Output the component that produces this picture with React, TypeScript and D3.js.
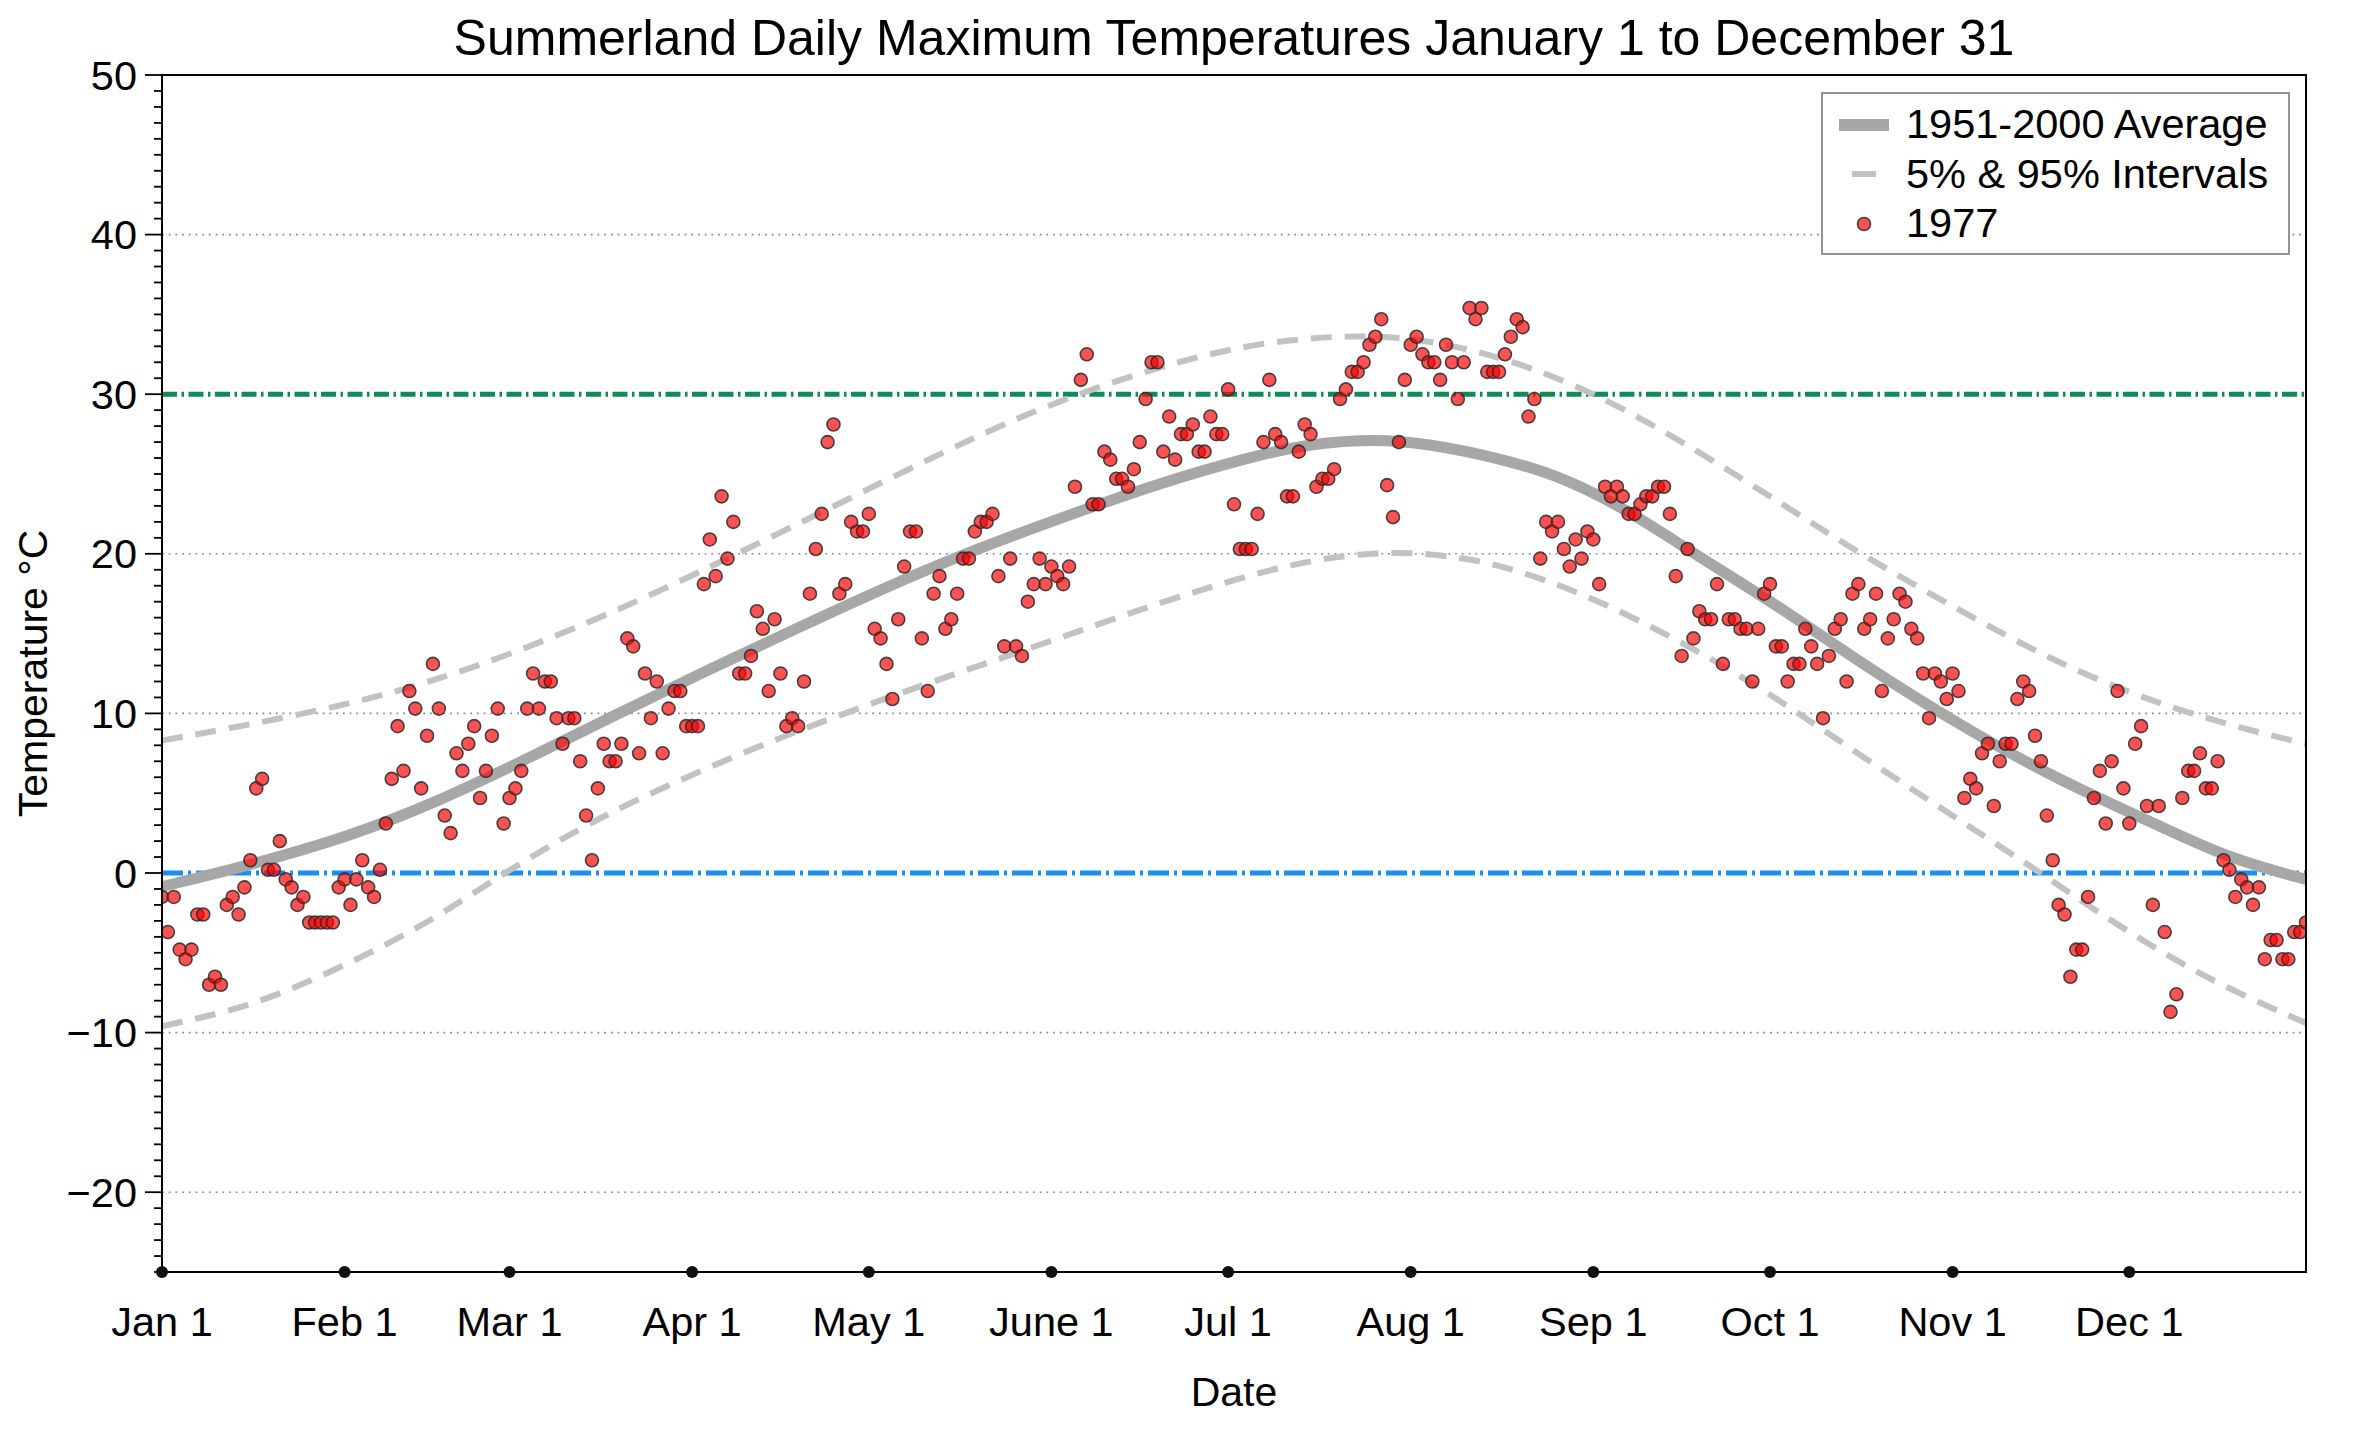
import React from "react";
import * as d3 from "d3";

// ---------- DATA ----------
const monthTickDays = [0, 31, 59, 90, 120, 151, 181, 212, 243, 273, 304, 334];
const monthTickLabels = ["Jan 1", "Feb 1", "Mar 1", "Apr 1", "May 1", "June 1", "Jul 1", "Aug 1", "Sep 1", "Oct 1", "Nov 1", "Dec 1"];
const yMajorTicks = [-20, -10, 0, 10, 20, 30, 40, 50];
const gridValues = [-20, -10, 10, 20, 40];

// 1977 daily maxima (°C), day index 0 = Jan 1
const temps1977 = [
  -1.5, -3.7, -1.5, -4.8, -5.4, -4.8, -2.6, -2.6, -7.0, -6.5,
  -7.0, -2.0, -1.5, -2.6, -0.9, 0.8, 5.3, 5.9, 0.2, 0.2,
  2.0, -0.4, -0.9, -2.0, -1.5, -3.1, -3.1, -3.1, -3.1, -3.1,
  -0.9, -0.4, -2.0, -0.4, 0.8, -0.9, -1.5, 0.2, 3.1, 5.9,
  9.2, 6.4, 11.4, 10.3, 5.3, 8.6, 13.1, 10.3, 3.6, 2.5,
  7.5, 6.4, 8.1, 9.2, 4.7, 6.4, 8.6, 10.3, 3.1, 4.7,
  5.3, 6.4, 10.3, 12.5, 10.3, 12.0, 12.0, 9.7, 8.1, 9.7,
  9.7, 7.0, 3.6, 0.8, 5.3, 8.1, 7.0, 7.0, 8.1, 14.7,
  14.2, 7.5, 12.5, 9.7, 12.0, 7.5, 10.3, 11.4, 11.4, 9.2,
  9.2, 9.2, 18.1, 20.9, 18.6, 23.6, 19.7, 22.0, 12.5, 12.5,
  13.6, 16.4, 15.3, 11.4, 15.9, 12.5, 9.2, 9.7, 9.2, 12.0,
  17.5, 20.3, 22.5, 27.0, 28.1, 17.5, 18.1, 22.0, 21.4, 21.4,
  22.5, 15.3, 14.7, 13.1, 10.9, 15.9, 19.2, 21.4, 21.4, 14.7,
  11.4, 17.5, 18.6, 15.3, 15.9, 17.5, 19.7, 19.7, 21.4, 22.0,
  22.0, 22.5, 18.6, 14.2, 19.7, 14.2, 13.6, 17.0, 18.1, 19.7,
  18.1, 19.2, 18.6, 18.1, 19.2, 24.2, 30.9, 32.5, 23.1, 23.1,
  26.4, 25.9, 24.7, 24.7, 24.2, 25.3, 27.0, 29.7, 32.0, 32.0,
  26.4, 28.6, 25.9, 27.5, 27.5, 28.1, 26.4, 26.4, 28.6, 27.5,
  27.5, 30.3, 23.1, 20.3, 20.3, 20.3, 22.5, 27.0, 30.9, 27.5,
  27.0, 23.6, 23.6, 26.4, 28.1, 27.5, 24.2, 24.7, 24.7, 25.3,
  29.7, 30.3, 31.4, 31.4, 32.0, 33.1, 33.6, 34.7, 24.3, 22.3,
  27.0, 30.9, 33.1, 33.6, 32.5, 32.0, 32.0, 30.9, 33.1, 32.0,
  29.7, 32.0, 35.4, 34.7, 35.4, 31.4, 31.4, 31.4, 32.5, 33.6,
  34.7, 34.2, 28.6, 29.7, 19.7, 22.0, 21.4, 22.0, 20.3, 19.2,
  20.9, 19.7, 21.4, 20.9, 18.1, 24.2, 23.6, 24.2, 23.6, 22.5,
  22.5, 23.1, 23.6, 23.6, 24.2, 24.2, 22.5, 18.6, 13.6, 20.3,
  14.7, 16.4, 15.9, 15.9, 18.1, 13.1, 15.9, 15.9, 15.3, 15.3,
  12.0, 15.3, 17.5, 18.1, 14.2, 14.2, 12.0, 13.1, 13.1, 15.3,
  14.2, 13.1, 9.7, 13.6, 15.3, 15.9, 12.0, 17.5, 18.1, 15.3,
  15.9, 17.5, 11.4, 14.7, 15.9, 17.5, 17.0, 15.3, 14.7, 12.5,
  9.7, 12.5, 12.0, 10.9, 12.5, 11.4, 4.7, 5.9, 5.3, 7.5,
  8.1, 4.2, 7.0, 8.1, 8.1, 10.9, 12.0, 11.4, 8.6, 7.0,
  3.6, 0.8, -2.0, -2.6, -6.5, -4.8, -4.8, -1.5, 4.7, 6.4,
  3.1, 7.0, 11.4, 5.3, 3.1, 8.1, 9.2, 4.2, -2.0, 4.2,
  -3.7, -8.7, -7.6, 4.7, 6.4, 6.4, 7.5, 5.3, 5.3, 7.0,
  0.8, 0.2, -1.5, -0.4, -0.9, -2.0, -0.9, -5.4, -4.2, -4.2,
  -5.4, -5.4, -3.7, -3.7, -3.1,
];

// 1951-2000 average: [day, °C]
const averageSamples: [number, number][] = [
  [0, -0.85], [15, 0.5], [32, 2.3], [47, 4.5], [60, 6.8], [77, 9.9], [92, 12.6],
  [107, 15.2], [124, 18.1], [139, 20.4], [153, 22.3], [169, 24.4], [185, 26.1],
  [195, 26.9], [206, 27.2], [215, 26.9], [227, 26.0], [238, 24.8], [249, 22.7],
  [261, 19.8], [275, 16.6], [289, 13.0], [306, 9.1], [321, 6.0], [340, 2.8],
  [351, 0.9], [364, -0.4],
];
// 95% interval
const upperSamples: [number, number][] = [
  [0, 8.3], [15, 9.3], [32, 10.6], [45, 11.9], [60, 13.8], [77, 16.4], [91, 18.8],
  [107, 21.7], [124, 24.8], [139, 27.5], [153, 29.7], [169, 31.7], [183, 33.0],
  [194, 33.5], [204, 33.7], [215, 33.4], [228, 32.3], [244, 30.0], [261, 26.4],
  [276, 22.9], [290, 19.6], [306, 16.3], [321, 13.3], [334, 11.3], [345, 9.9],
  [357, 8.7], [364, 8.1],
];
// 5% interval
const lowerSamples: [number, number][] = [
  [0, -9.6], [15, -8.4], [30, -6.0], [45, -3.2], [58, 0.0], [70, 2.6], [80, 4.5],
  [92, 6.5], [107, 8.8], [124, 11.1], [138, 12.9], [153, 14.8], [169, 16.9],
  [184, 18.6], [196, 19.7], [209, 20.2], [221, 19.8], [231, 18.9], [244, 17.1],
  [261, 13.9], [274, 11.0], [289, 7.2], [306, 3.1], [317, 0.5], [328, -2.3],
  [340, -5.1], [351, -7.3], [364, -9.4],
];

const refLineHot = 30;
const refLineFreeze = 0;

const titleText = "Summerland Daily Maximum Temperatures January 1 to December 31";
const xLabel = "Date";
const yLabel = "Temperature °C";
const legendLabels = ["1951-2000 Average", "5% & 95% Intervals", "1977"];

// ---------- LAYOUT ----------
const W = 2360;
const H = 1432;
const M = { left: 162, right: 2306, top: 75, bottom: 1272 };
const FONT = "'Liberation Sans', Arial, Helvetica, sans-serif";
const TICK_FS = 41.5;

export default function App() {
  const x = d3.scaleLinear().domain([0, 364]).range([M.left, M.right]);
  const y = d3.scaleLinear().domain([-25, 50]).range([M.bottom, M.top]);

  const line = d3
    .line<[number, number]>()
    .x((d) => x(d[0]))
    .y((d) => y(d[1]))
    .curve(d3.curveBasis);

  const minorTicks = d3.range(-25, 51, 1);
  const fmt = (v: number) => (v < 0 ? "\u2212" + Math.abs(v) : String(v));

  const legX = 1822;
  const legY = 93;
  const legW = 467;
  const legH = 161;
  const rowBase = [138, 188, 237];

  return (
    <svg
      width={W}
      height={H}
      viewBox={`0 0 ${W} ${H}`}
      style={{ position: "absolute", left: 0, top: 0, display: "block", background: "#fff" }}
      fontFamily={FONT}
    >
      <rect x={0} y={0} width={W} height={H} fill="#fff" />
      <defs>
        <clipPath id="plotClip">
          <rect x={M.left} y={M.top} width={M.right - M.left} height={M.bottom - M.top} />
        </clipPath>
      </defs>

      {/* title */}
      <text x={(M.left + M.right) / 2} y={55} textAnchor="middle" fontSize={50} fill="#000">
        {titleText}
      </text>

      {/* grid */}
      {gridValues.map((g) => (
        <line
          key={"g" + g}
          x1={M.left}
          x2={M.right}
          y1={y(g)}
          y2={y(g)}
          stroke="#8a8a8a"
          strokeWidth={1.6}
          strokeDasharray="1.8 4.9"
        />
      ))}

      <g clipPath="url(#plotClip)">
        {/* reference lines */}
        <line
          x1={M.left}
          x2={M.right}
          y1={y(refLineHot)}
          y2={y(refLineHot)}
          stroke="#108b56"
          strokeWidth={5}
          strokeDasharray="15 4.5 2.5 4.5"
        />
        <line
          x1={M.left}
          x2={M.right}
          y1={y(refLineFreeze)}
          y2={y(refLineFreeze)}
          stroke="#1a8ff0"
          strokeWidth={5}
          strokeDasharray="21 5 3 5"
        />

        {/* intervals */}
        <path d={line(upperSamples) || ""} fill="none" stroke="#c2c2c2" strokeWidth={6} strokeDasharray="21 13" />
        <path d={line(lowerSamples) || ""} fill="none" stroke="#c2c2c2" strokeWidth={6} strokeDasharray="21 13" />
        {/* average */}
        <path d={line(averageSamples) || ""} fill="none" stroke="#a7a7a7" strokeWidth={11} />

        {/* 1977 points */}
        {temps1977.map((t, i) => (
          <circle
            key={"p" + i}
            cx={x(i)}
            cy={y(t)}
            r={6.5}
            fill="#ff0000"
            fillOpacity={0.68}
            stroke="#2a2a2a"
            strokeOpacity={0.85}
            strokeWidth={1.6}
          />
        ))}
      </g>

      {/* frame */}
      <rect
        x={M.left}
        y={M.top}
        width={M.right - M.left}
        height={M.bottom - M.top}
        fill="none"
        stroke="#000"
        strokeWidth={2}
      />

      {/* y ticks */}
      {minorTicks.map((t) => {
        const major = t % 10 === 0;
        return (
          <line
            key={"yt" + t}
            x1={M.left - (major ? 17 : 8)}
            x2={M.left}
            y1={y(t)}
            y2={y(t)}
            stroke="#000"
            strokeWidth={1.8}
          />
        );
      })}
      {yMajorTicks.map((t) => (
        <text key={"yl" + t} x={137} y={y(t) + 14.5} textAnchor="end" fontSize={TICK_FS} fill="#000">
          {fmt(t)}
        </text>
      ))}

      {/* x ticks: dots */}
      {monthTickDays.map((d, i) => (
        <g key={"xt" + d}>
          <circle cx={x(d)} cy={M.bottom} r={6} fill="#111" />
          <text x={x(d)} y={1336} textAnchor="middle" fontSize={TICK_FS} fill="#000">
            {monthTickLabels[i]}
          </text>
        </g>
      ))}

      {/* axis labels */}
      <text x={(M.left + M.right) / 2} y={1406} textAnchor="middle" fontSize={41} fill="#000">
        {xLabel}
      </text>
      <text transform={`translate(47, ${(M.top + M.bottom) / 2}) rotate(-90)`} textAnchor="middle" fontSize={41} fill="#000">
        {yLabel}
      </text>

      {/* legend */}
      <rect x={legX} y={legY} width={legW} height={legH} fill="#fff" stroke="#7a7a7a" strokeWidth={1.6} />
      <line x1={1839} x2={1889} y1={rowBase[0] - 13} y2={rowBase[0] - 13} stroke="#a7a7a7" strokeWidth={12} />
      <line x1={1852} x2={1876} y1={rowBase[1] - 14} y2={rowBase[1] - 14} stroke="#c2c2c2" strokeWidth={6} />
      <circle
        cx={1864}
        cy={rowBase[2] - 13}
        r={6.5}
        fill="#ff0000"
        fillOpacity={0.68}
        stroke="#2a2a2a"
        strokeOpacity={0.85}
        strokeWidth={1.6}
      />
      {legendLabels.map((l, i) => (
        <text key={"lg" + i} x={1906} y={rowBase[i]} fontSize={TICK_FS} fill="#000">
          {l}
        </text>
      ))}
    </svg>
  );
}
